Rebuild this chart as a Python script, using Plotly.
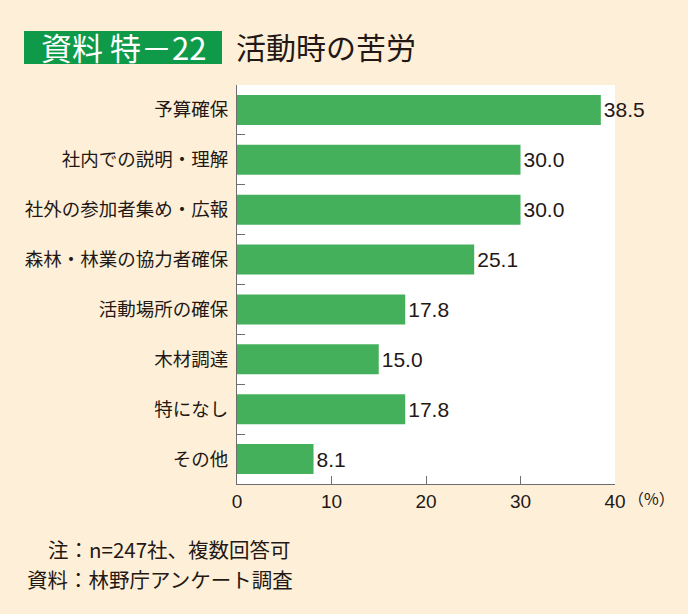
import plotly.graph_objects as go

categories = [
    "予算確保",
    "社内での説明・理解",
    "社外の参加者集め・広報",
    "森林・林業の協力者確保",
    "活動場所の確保",
    "木材調達",
    "特になし",
    "その他",
]
values = [38.5, 30.0, 30.0, 25.1, 17.8, 15.0, 17.8, 8.1]
x_ticks = [0, 10, 20, 30, 40]

FONT = "Noto Sans CJK JP"
NUM = "Liberation Sans, Noto Sans CJK JP"
BG = "#FEF0D8"
BAR = "#45B05C"
INK = "#231815"
AXIS = "#6E6E6E"

fig = go.Figure(go.Bar(
    x=values, y=categories, orientation="h",
    marker=dict(color=BAR, line=dict(width=0)),
    width=0.6,
    text=[f"{v:.1f}" for v in values], textposition="outside",
    textfont=dict(family=NUM, size=21, color=INK),
    cliponaxis=False,
))

fig.update_layout(
    width=688, height=614,
    margin=dict(l=237, r=73, t=85, b=130),
    paper_bgcolor=BG, plot_bgcolor="white",
    showlegend=False,
    font=dict(family=FONT, color=INK),
    xaxis=dict(
        range=[0, 40], tickvals=x_ticks, ticks="inside", ticklen=8,
        tickcolor=AXIS, showgrid=False, zeroline=False,
        showline=True, linecolor=AXIS, linewidth=1,
        tickfont=dict(family=NUM, size=19, color=INK),
    ),
    yaxis=dict(
        categoryorder="array", categoryarray=categories[::-1],
        ticks="inside", tickson="boundaries", ticklen=8, tickcolor=AXIS,
        showgrid=False, showline=True, linecolor=AXIS, linewidth=1,
        tickfont=dict(family=FONT, size=18.5, color=INK), ticklabelstandoff=4,
    ),
)

# title block
fig.add_shape(type="rect", xref="paper", yref="paper",
              x0=(24 - 237) / 378, x1=(222 - 237) / 378,
              y0=1 + (85 - 64) / 399, y1=1 + (85 - 31) / 399,
              fillcolor="#0E9A48", line=dict(width=0))
fig.add_annotation(text="資料 特－22", xref="paper", yref="paper",
                   x=(123 - 237) / 378, y=1 + (85 - 47) / 399,
                   showarrow=False, xanchor="center", yanchor="middle",
                   font=dict(family=FONT, size=31, color="white"))
fig.add_annotation(text="活動時の苦労", xref="paper", yref="paper",
                   x=(234 - 237) / 378, y=1 + (85 - 46) / 399,
                   showarrow=False, xanchor="left", yanchor="middle",
                   font=dict(family=FONT, size=30, color=INK))

# unit label
fig.add_annotation(text="（%）", xref="x", yref="paper", x=40, y=0,
                   xshift=11, yshift=-14, showarrow=False,
                   xanchor="left", yanchor="middle",
                   font=dict(family=FONT, size=16, color=INK))

# notes
fig.add_annotation(text="注：n=247社、複数回答可", xref="paper", yref="paper",
                   x=(46 - 237) / 378, y=(484 - 549) / 399,
                   showarrow=False, xanchor="left", yanchor="middle",
                   font=dict(family=FONT, size=20.5, color=INK))
fig.add_annotation(text="資料：林野庁アンケート調査", xref="paper", yref="paper",
                   x=(25 - 237) / 378, y=(484 - 579) / 399,
                   showarrow=False, xanchor="left", yanchor="middle",
                   font=dict(family=FONT, size=20.5, color=INK))

fig.write_html(
    "out.html",
    config={"displayModeBar": False},
    post_script="document.body.style.margin='0';document.body.style.background='#FEF0D8';",
)
